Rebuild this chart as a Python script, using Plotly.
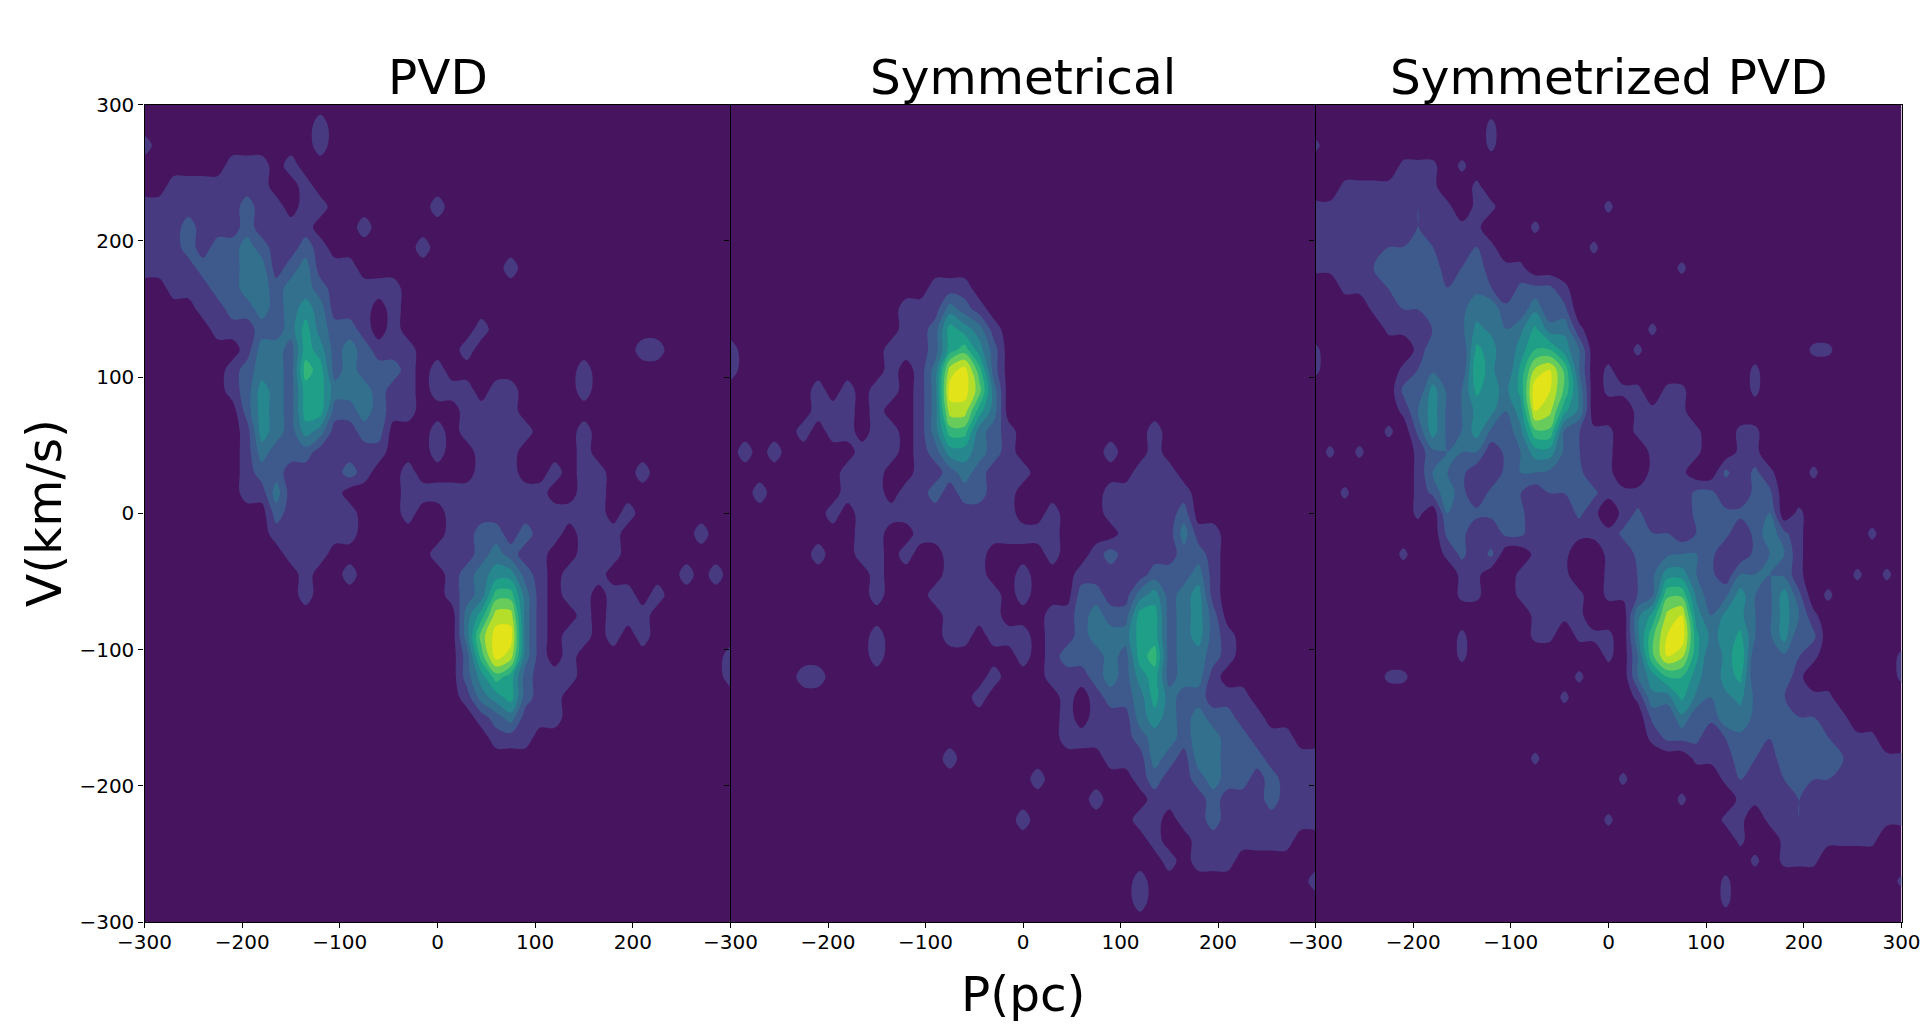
import numpy as np
import plotly.graph_objects as go

# grid of the position-velocity diagram, one step = 15
p_values = list(range(-300, 301, 15))
v_values = list(range(300, -301, -15))

# contour band, one digit per p value, rows from v=300 down
# (trailing zeros left out)
pvd_rows = [
    "",
    "0000000000001",
    "1000000000001",
    "00000011101",
    "001111111001",
    "111111121101100000001",
    "1112111211110001",
    "11121223211210000001",
    "11112223312311100000000001",
    "001112233233211111",
    "000011223234311101",
    "000001112235322101000001",
    "000000013325423211100010000000000011",
    "0000001233265232221010000000001",
    "0000001243255333211011101100001",
    "00000002432552232110001111",
    "0000000143243112200010111110001",
    "0000000132221111100010011100001",
    "00000001221111210010000111001011001",
    "00000001131111000011111111110011",
    "0000000002111110001001111111111101",
    "000000000111111000000112212110111000001",
    "000000000011100000001112321100111",
    "0000000000010010000001234421011100000101",
    "000000000001000000000123663101101101",
    "00000000000000000000003588310010111",
    "00000000000000000000003799310110101",
    "00000000000000000000002698310100000000001",
    "00000000000000000000002465211100000000001",
    "00000000000000000000001345211",
    "00000000000000000000000123111",
    "000000000000000000000000111",
    "", "", "", "", "", "", "", "", "",
]

panel_titles = ["PVD", "Symmetrical", "Symmetrized PVD"]
x_ticks = [-300, -200, -100, 0, 100, 200]
x_ticks_last = [-300, -200, -100, 0, 100, 200, 300]
y_ticks = [-300, -200, -100, 0, 100, 200, 300]

band_colors = ["#47155f", "#483a80", "#3e5a8c", "#32708e", "#26888e",
               "#1f9f88", "#33b57a", "#67cc5c", "#b5de2b", "#e2e318"]

pvd = np.array([[int(c) for c in row.ljust(len(p_values), "0")] for row in pvd_rows], dtype=float)
pvd = pvd[::-1]
v_up = v_values[::-1]

# the other two panels come from the PVD itself
symmetrical = pvd[::-1, ::-1]
a = np.where(pvd > 0, pvd + 0.5, 0.2)
b = np.where(symmetrical > 0, symmetrical + 0.5, 0.2)
symmetrized = (a + b) / 1.33 - 0.5

W, H = 1920, 1036
edges = [144.5, 730.5, 1315.5, 1901.5]
top, bottom = 104.5, 922

scale = [[i / 9, c] for i, c in enumerate(band_colors)]
fig = go.Figure()

for n, z in enumerate([pvd, symmetrical, symmetrized]):
    suffix = "" if n == 0 else str(n + 1)
    fig.add_trace(go.Contour(
        x=p_values, y=v_up, z=z,
        xaxis="x" + suffix, yaxis="y" + suffix,
        colorscale=scale, showscale=False, hoverinfo="skip",
        contours=dict(start=0.5, end=8.5, size=1, coloring="fill", showlines=False),
        line=dict(width=0),
    ))
    fig.layout["xaxis" + suffix] = dict(
        domain=[edges[n] / W, edges[n + 1] / W], anchor="y" + suffix, range=[-300, 300],
        tickmode="array", tickvals=x_ticks_last if n == 2 else x_ticks,
        ticks="outside", ticklen=5, tickwidth=1, tickcolor="black",
        ticklabeloverflow="allow", ticklabelstandoff=-3,
        tickfont=dict(family="DejaVu Sans", size=20, color="black"),
        showgrid=False, zeroline=False, showline=True, linecolor="black", linewidth=1.3, mirror=True,
    )
    fig.layout["yaxis" + suffix] = dict(
        domain=[1 - bottom / H, 1 - top / H], anchor="x" + suffix, range=[-300, 300],
        tickmode="array", tickvals=y_ticks, showticklabels=n == 0,
        ticks="outside", ticklen=5, tickwidth=1, tickcolor="black",
        tickfont=dict(family="DejaVu Sans", size=20, color="black"),
        showgrid=False, zeroline=False, showline=True, linecolor="black", linewidth=1.3, mirror=True,
    )
    fig.add_annotation(
        text=panel_titles[n], xref="paper", yref="paper", showarrow=False,
        x=(edges[n] + edges[n + 1]) / 2 / W, y=1 - 77 / H, xanchor="center", yanchor="middle",
        font=dict(family="DejaVu Sans", size=48.5, color="black"),
    )

fig.add_annotation(
    text="P(pc)", xref="paper", yref="paper", showarrow=False,
    x=1023 / W, y=1 - 994 / H, xanchor="center", yanchor="middle",
    font=dict(family="DejaVu Sans", size=48.5, color="black"),
)
fig.add_annotation(
    text="V(km/s)", xref="paper", yref="paper", showarrow=False, textangle=-90,
    x=44 / W, y=1 - 513 / H, xanchor="center", yanchor="middle",
    font=dict(family="DejaVu Sans", size=48.5, color="black"),
)

fig.update_layout(
    width=W, height=H, autosize=False,
    margin=dict(l=0, r=0, t=0, b=0, autoexpand=False),
    paper_bgcolor="white", plot_bgcolor="white",
    showlegend=False,
)

fig.write_html("out.html", post_script="document.body.style.margin='0';",
               config=dict(displayModeBar=False))
